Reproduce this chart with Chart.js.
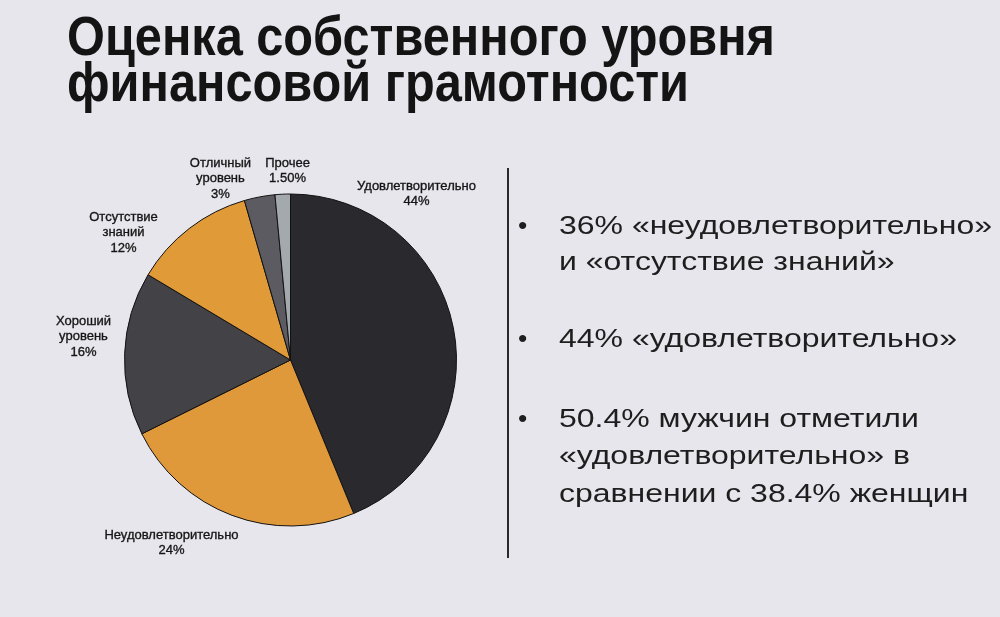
<!DOCTYPE html>
<html lang="ru">
<head>
<meta charset="utf-8">
<script src="https://cdn.jsdelivr.net/npm/chart.js@4.4.1/dist/chart.umd.min.js"></script>
<style>
  html, body { margin:0; padding:0; }
  body { width:1000px; height:617px; background:#e6e6ec; position:relative; overflow:hidden;
         font-family:"Liberation Sans", Arial, sans-serif; color:#1c1c1c; }
  #c { position:absolute; left:0; top:0; }
  .t { position:absolute; white-space:nowrap; transform-origin:0 0; line-height:1; }
  .title { font-weight:bold; font-size:55px; color:#141414; }
  .bl { font-size:26.5px; color:#1e1e1e; }
  #vline { position:absolute; left:507px; top:168px; width:1.6px; height:390px; background:#2a2a2a; }
</style>
</head>
<body>
<canvas id="c" width="1000" height="617"></canvas>
<div id="vline"></div>
<div id="texts"></div>
<script>
// ---- data ----
const categories = ["Удовлетворительно", "Неудовлетворительно", "Хороший уровень", "Отсутствие знаний", "Отличный уровень", "Прочее"];
const values = [44, 24, 16, 12, 3, 1.5];
const percentLabels = ["44%", "24%", "16%", "12%", "3%", "1.50%"];
const sliceColors = ["#2a2a2e", "#e0993a", "#434347", "#e19a38", "#5b5b61", "#a3a9ac"];
const titleLines = ["Оценка собственного уровня", "финансовой грамотности"];
const bulletLines = [
  ["36% «неудовлетворительно»", "и «отсутствие знаний»"],
  ["44% «удовлетворительно»"],
  ["50.4% мужчин отметили", "«удовлетворительно» в", "сравнении с 38.4% женщин"]
];
// label anchors relative to pie centre, in units of radius (x: block centre, y: first baseline)
const labelOffsets = [[0.759,-1.024],[-0.717,1.078],[-1.247,-0.211],[-1.006,-0.837],[-0.422,-1.163],[-0.018,-1.163]];

// ---- HTML text ----
const texts = document.getElementById('texts');
function addLine(txt, cls, x, baseline, size) {
  const d = document.createElement('div');
  d.className = 't ' + cls;
  d.textContent = txt;
  d.style.left = x + 'px';
  d.style.top = (baseline - 0.8465 * size) + 'px';
  texts.appendChild(d);
  return d;
}
const tSize = 55;
const t1 = addLine(titleLines[0], 'title', 67, 56, tSize);
const t2 = addLine(titleLines[1], 'title', 67, 102, tSize);

const bSize = 26.5;
const bBaselines = [[234, 270], [347], [427, 464, 502]];
const bEls = [];
bulletLines.forEach((lines, i) => {
  addLine('•', 'bl', 518, bBaselines[i][0], bSize);
  lines.forEach((ln, j) => bEls.push(addLine(ln, 'bl', 559, bBaselines[i][j], bSize)));
});

// width fitting using canvas text metrics with the real font
function fitText() {
  const mc = document.createElement('canvas').getContext('2d');
  mc.font = 'bold 55px "Liberation Sans"';
  const tw = mc.measureText(titleLines[0]).width;
  const tScale = 708 / tw;
  [t1, t2].forEach(d => d.style.transform = 'scaleX(' + tScale + ')');
  mc.font = '26.5px "Liberation Sans"';
  const bw = mc.measureText(bulletLines[0][0]).width;
  const bScale = 433 / bw;
  bEls.forEach(d => d.style.transform = 'scaleX(' + bScale + ')');
}
[t1, t2].forEach(d => d.style.transform = 'scaleX(0.75)');
Promise.all([
  document.fonts.load('bold 55px "Liberation Sans"'),
  document.fonts.load('26.5px "Liberation Sans"'),
  document.fonts.load('13px "Liberation Sans"')
]).then(fitText, fitText);

// ---- pie labels plugin ----
const pieLabels = {
  id: 'pieLabels',
  afterDatasetsDraw(chart) {
    const meta = chart.getDatasetMeta(0);
    const ctx = chart.ctx;
    const a0 = meta.data[0];
    const cx = a0.x, cy = a0.y, r = a0.outerRadius;
    ctx.save();
    ctx.font = '13px "Liberation Sans", Arial, sans-serif';
    ctx.fillStyle = '#161616';
    ctx.strokeStyle = '#161616';
    ctx.lineWidth = 0.35;
    ctx.textAlign = 'center';
    ctx.textBaseline = 'alphabetic';
    categories.forEach((name, i) => {
      const lines = name.split(' ').concat([percentLabels[i]]);
      const x = cx + labelOffsets[i][0] * r;
      const y = cy + labelOffsets[i][1] * r;
      lines.forEach((ln, k) => {
        ctx.fillText(ln, x, y + k * 15.3);
        ctx.strokeText(ln, x, y + k * 15.3);
      });
    });
    ctx.restore();
  }
};

function drawChart() {
  new Chart(document.getElementById('c'), {
    type: 'pie',
    data: {
      labels: categories,
      datasets: [{
        data: values,
        backgroundColor: sliceColors,
        borderColor: '#111111',
        borderWidth: 1
      }]
    },
    options: {
      responsive: false,
      animation: false,
      layout: { padding: { left: 124, top: 193, right: 543, bottom: 90 } },
      plugins: { legend: { display: false }, tooltip: { enabled: false } }
    },
    plugins: [pieLabels]
  });
}
document.fonts.load('13px "Liberation Sans"').then(drawChart, drawChart);
</script>
</body>
</html>
